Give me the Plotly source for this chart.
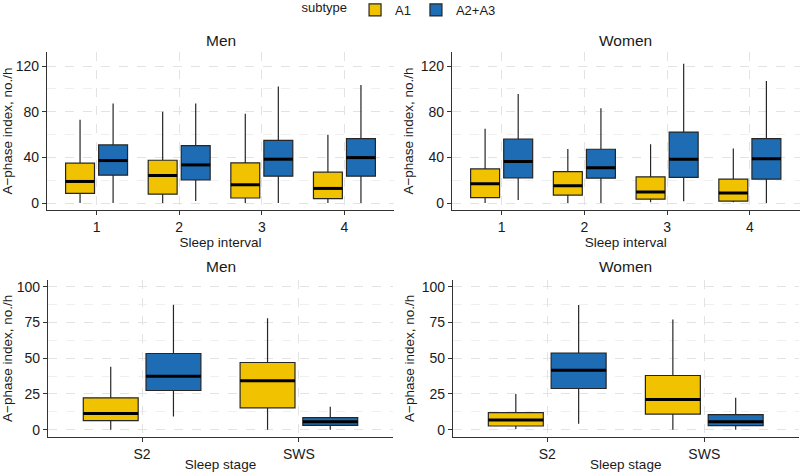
import plotly.graph_objects as go

# ---------------- data ----------------
intervals = ["1", "2", "3", "4"]
stages = ["S2", "SWS"]
subtypes = ["A1", "A2+A3"]

# Men, by sleep interval
men_int_a1_min = [0, 0, 0, 0]
men_int_a1_q1 = [8.4, 7.8, 4.4, 3.8]
men_int_a1_med = [18.9, 24.1, 16.0, 12.8]
men_int_a1_q3 = [34.9, 37.5, 35.2, 27.0]
men_int_a1_max = [73.0, 80.0, 78.2, 59.9]

men_int_a23_min = [0, 1.7, 0, 0]
men_int_a23_q1 = [24.4, 20.3, 23.5, 23.5]
men_int_a23_med = [37.2, 33.4, 38.4, 39.8]
men_int_a23_q3 = [50.9, 50.3, 54.9, 56.4]
men_int_a23_max = [87.2, 87.2, 102.0, 103.5]

# Women, by sleep interval
women_int_a1_min = [0, 0, 0.6, 0.6]
women_int_a1_q1 = [4.7, 7.0, 3.5, 1.7]
women_int_a1_med = [16.9, 15.1, 9.6, 8.7]
women_int_a1_q3 = [29.9, 27.6, 23.0, 20.9]
women_int_a1_max = [65.1, 47.4, 51.5, 47.7]

women_int_a23_min = [2.6, 0, 1.5, 0]
women_int_a23_q1 = [22.1, 21.8, 22.4, 20.9]
women_int_a23_med = [36.3, 30.8, 38.4, 38.7]
women_int_a23_q3 = [56.1, 47.1, 62.2, 56.4]
women_int_a23_max = [95.6, 83.1, 122.0, 107.0]

# Men, by sleep stage
men_stg_a1_min = [0, 0]
men_stg_a1_q1 = [6.3, 15.3]
men_stg_a1_med = [11.4, 34.2]
men_stg_a1_q3 = [22.3, 47.0]
men_stg_a1_max = [44.0, 77.9]

men_stg_a23_min = [9.3, 0]
men_stg_a23_q1 = [27.4, 3.0]
men_stg_a23_med = [37.4, 5.6]
men_stg_a23_q3 = [53.3, 8.4]
men_stg_a23_max = [87.4, 16.0]

# Women, by sleep stage
women_stg_a1_min = [0.5, 0]
women_stg_a1_q1 = [2.6, 10.9]
women_stg_a1_med = [6.7, 21.2]
women_stg_a1_q3 = [11.9, 37.9]
women_stg_a1_max = [24.9, 77.0]

women_stg_a23_min = [4.2, 0]
women_stg_a23_q1 = [28.8, 2.8]
women_stg_a23_med = [41.6, 5.6]
women_stg_a23_q3 = [53.5, 10.5]
women_stg_a23_max = [87.2, 22.3]

# ---------------- style ----------------
FONT = "Liberation Sans, Arial, Helvetica, sans-serif"
COLORS = {"A1": "#F0C200", "A2+A3": "#1D6CB4"}
OUTLINE = "#262626"
DODGE = 0.2
BOX_W = 0.35

panels = [
    ("x", "y", intervals, {
        "A1": (men_int_a1_min, men_int_a1_q1, men_int_a1_med, men_int_a1_q3, men_int_a1_max),
        "A2+A3": (men_int_a23_min, men_int_a23_q1, men_int_a23_med, men_int_a23_q3, men_int_a23_max),
    }, True),
    ("x2", "y2", intervals, {
        "A1": (women_int_a1_min, women_int_a1_q1, women_int_a1_med, women_int_a1_q3, women_int_a1_max),
        "A2+A3": (women_int_a23_min, women_int_a23_q1, women_int_a23_med, women_int_a23_q3, women_int_a23_max),
    }, False),
    ("x3", "y3", stages, {
        "A1": (men_stg_a1_min, men_stg_a1_q1, men_stg_a1_med, men_stg_a1_q3, men_stg_a1_max),
        "A2+A3": (men_stg_a23_min, men_stg_a23_q1, men_stg_a23_med, men_stg_a23_q3, men_stg_a23_max),
    }, False),
    ("x4", "y4", stages, {
        "A1": (women_stg_a1_min, women_stg_a1_q1, women_stg_a1_med, women_stg_a1_q3, women_stg_a1_max),
        "A2+A3": (women_stg_a23_min, women_stg_a23_q1, women_stg_a23_med, women_stg_a23_q3, women_stg_a23_max),
    }, False),
]

fig = go.Figure()

for xa, ya, cats, data, showleg in panels:
    for s_i, st in enumerate(subtypes):
        mn, q1, med, q3, mx = data[st]
        off = -DODGE if s_i == 0 else DODGE
        pos = [i + 1 + off for i in range(len(cats))]
        fig.add_trace(go.Box(
            x=pos, q1=q1, median=med, q3=q3, lowerfence=mn, upperfence=mx,
            width=BOX_W, whiskerwidth=0, boxpoints=False,
            fillcolor=COLORS[st], line=dict(color=OUTLINE, width=1.2),
            name=st, legendgroup=st, showlegend=showleg,
            xaxis=xa, yaxis=ya,
        ))
        # thicker median line, as in ggplot
        mx_, my_ = [], []
        for p, m in zip(pos, med):
            mx_ += [p - BOX_W / 2, p + BOX_W / 2, None]
            my_ += [m, m, None]
        fig.add_trace(go.Scatter(
            x=mx_, y=my_, mode="lines", line=dict(color="black", width=3),
            showlegend=False, hoverinfo="skip", xaxis=xa, yaxis=ya,
        ))

W, H = 800, 472
def px_x(a, b):
    return [a / W, b / W]
def px_y(top, bottom):
    return [(H - bottom) / H, (H - top) / H]

grid_major = dict(showgrid=True, gridcolor="#e3e3e3", griddash="dash", gridwidth=1)
axis_common = dict(showline=True, linecolor="#333333", linewidth=1.2, ticks="outside",
                   ticklen=4, tickcolor="#333333", zeroline=False, automargin=False,
                   tickfont=dict(size=14, color="#1a1a1a", family=FONT))

def xaxis_cfg(dom, cats, anchor, title):
    return dict(domain=dom, range=[0.4, len(cats) + 0.6], tickmode="array",
                tickvals=list(range(1, len(cats) + 1)), ticktext=cats,
                anchor=anchor,
                title=dict(text=title, standoff=1,
                           font=dict(size=13.5, color="#1a1a1a", family=FONT)),
                **grid_major, **axis_common)

def yaxis_cfg(dom, rng, dtick, anchor):
    return dict(domain=dom, range=rng, tick0=0, dtick=dtick, anchor=anchor,
                minor=dict(dtick=dtick / 2, tick0=0, showgrid=True, gridcolor="#efefef",
                           griddash="dash", ticks=""),
                title=dict(text="A−phase index, no./h", standoff=4,
                           font=dict(size=13.5, color="#1a1a1a", family=FONT)),
                **grid_major, **axis_common)

top_y = px_y(52, 210)
bot_y = px_y(280, 436.7)
top_rng = [-6.1, 132.3]
bot_rng = [-4.9, 104.7]

fig.update_layout(
    width=W, height=H,
    margin=dict(l=0, r=0, t=0, b=0, autoexpand=False),
    paper_bgcolor="white", plot_bgcolor="white",
    font=dict(family=FONT, size=13, color="#1a1a1a"),
    xaxis=xaxis_cfg(px_x(47, 394), intervals, "y", "Sleep interval"),
    yaxis=yaxis_cfg(top_y, top_rng, 40, "x"),
    xaxis2=xaxis_cfg(px_x(452, 799.5), intervals, "y2", "Sleep interval"),
    yaxis2=yaxis_cfg(top_y, top_rng, 40, "x2"),
    xaxis3=xaxis_cfg(px_x(48, 393), stages, "y3", "Sleep stage"),
    yaxis3=yaxis_cfg(bot_y, bot_rng, 25, "x3"),
    xaxis4=xaxis_cfg(px_x(453, 798.5), stages, "y4", "Sleep stage"),
    yaxis4=yaxis_cfg(bot_y, bot_rng, 25, "x4"),
    legend=dict(orientation="h", x=0.5, xanchor="center", y=1.0 + 5 / H, yanchor="top",
                title=dict(text="subtype", side="left", font=dict(size=13)),
                font=dict(size=13), itemwidth=30, tracegroupgap=0,
                bgcolor="rgba(0,0,0,0)"),
    showlegend=True,
)

titles = [("Men", 47, 394, 40), ("Women", 452, 799.5, 40),
          ("Men", 48, 393, 266), ("Women", 453, 798.5, 266)]
for txt, a, b, yc in titles:
    fig.add_annotation(text=txt, x=(a + b) / 2 / W, y=(H - yc) / H, xref="paper", yref="paper",
                       xanchor="center", yanchor="middle", showarrow=False,
                       font=dict(size=15.5, color="#1a1a1a", family=FONT))

fig.write_html(
    "out.html",
    config={"displayModeBar": False},
    post_script="document.documentElement.style.margin='0';document.body.style.margin='0';"
                "document.body.style.padding='0';document.body.style.overflow='hidden';",
)
